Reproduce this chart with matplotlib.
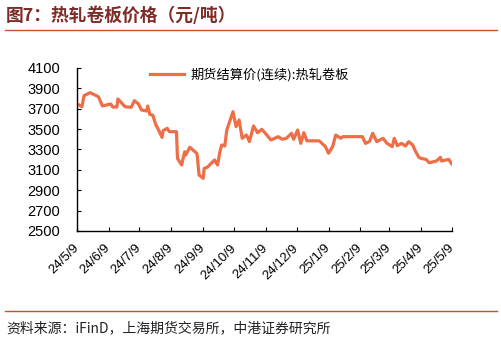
import pandas as pd
import matplotlib.pyplot as plt

plt.rcParams['font.family'] = ['Liberation Sans', 'Noto Sans CJK SC', 'DejaVu Sans']

# values (yuan/ton)
dates = ['2024-05-09', '2024-05-14', '2024-05-16', '2024-05-22', '2024-05-30',
         '2024-06-03', '2024-06-11', '2024-06-13', '2024-06-17', '2024-06-18',
         '2024-06-25', '2024-07-01', '2024-07-04', '2024-07-08', '2024-07-11',
         '2024-07-16', '2024-07-17', '2024-07-19', '2024-07-22', '2024-07-25',
         '2024-07-26', '2024-07-31', '2024-08-01', '2024-08-05', '2024-08-07',
         '2024-08-14', '2024-08-15', '2024-08-19', '2024-08-22', '2024-08-23',
         '2024-08-27', '2024-09-02', '2024-09-03', '2024-09-05', '2024-09-09',
         '2024-09-10', '2024-09-13', '2024-09-20', '2024-09-23', '2024-09-25',
         '2024-09-27', '2024-09-30', '2024-10-02', '2024-10-08', '2024-10-11',
         '2024-10-14', '2024-10-17', '2024-10-21', '2024-10-22', '2024-10-24',
         '2024-10-28', '2024-11-01', '2024-11-05', '2024-11-08', '2024-11-14',
         '2024-11-21', '2024-11-25', '2024-11-29', '2024-12-04', '2024-12-06',
         '2024-12-10', '2024-12-13', '2024-12-16', '2024-12-19', '2024-12-31',
         '2025-01-06', '2025-01-09', '2025-01-13', '2025-01-16', '2025-01-21',
         '2025-01-23', '2025-02-11', '2025-02-14', '2025-02-18', '2025-02-21',
         '2025-02-25', '2025-03-03', '2025-03-07', '2025-03-12', '2025-03-14',
         '2025-03-17', '2025-03-21', '2025-03-25', '2025-03-28', '2025-04-01',
         '2025-04-03', '2025-04-07', '2025-04-09', '2025-04-14', '2025-04-17',
         '2025-04-24', '2025-04-28', '2025-04-29', '2025-05-06', '2025-05-09']
prices = [3750, 3720, 3828, 3858, 3818,
          3727, 3747, 3717, 3717, 3796,
          3720, 3714, 3779, 3747, 3688,
          3678, 3727, 3645, 3636, 3540,
          3524, 3419, 3485, 3508, 3475,
          3475, 3213, 3148, 3278, 3246,
          3322, 3269, 3258, 3050, 3017,
          3115, 3125, 3197, 3148, 3263,
          3344, 3334, 3491, 3671, 3524,
          3590, 3410, 3442, 3426, 3377,
          3531, 3465, 3498, 3465, 3393,
          3426, 3400, 3410, 3459, 3400,
          3491, 3360, 3465, 3385, 3385,
          3328, 3263, 3328, 3442, 3410,
          3426, 3426, 3360, 3380, 3459,
          3377, 3410, 3360, 3328, 3410,
          3337, 3360, 3334, 3377, 3344,
          3295, 3223, 3213, 3203, 3170,
          3187, 3223, 3187, 3203, 3158]
tick_dates = ['2024-05-09', '2024-06-09', '2024-07-09', '2024-08-09', '2024-09-09',
              '2024-10-09', '2024-11-09', '2024-12-09', '2025-01-09', '2025-02-09',
              '2025-03-09', '2025-04-09', '2025-05-09']
tick_labels = ['24/5/9', '24/6/9', '24/7/9', '24/8/9', '24/9/9', '24/10/9', '24/11/9',
               '24/12/9', '25/1/9', '25/2/9', '25/3/9', '25/4/9', '25/5/9']
yticks = list(range(2500, 4101, 200))

x = pd.to_datetime(dates)

fig = plt.figure(figsize=(5.02, 3.41), dpi=100)
ax = fig.add_axes([0.153, 0.3226, 0.747, 0.478])

ax.plot(x, prices, color='#EE6E47', lw=2.3, label='期货结算价(连续):热轧卷板')

ax.set_ylim(2500, 4100)
ax.set_yticks(yticks)
ax.set_xlim(pd.Timestamp(tick_dates[0]), pd.Timestamp(tick_dates[-1]))
ax.set_xticks(pd.to_datetime(tick_dates))
ax.set_xticklabels(tick_labels, rotation=45, ha='right', va='center',
                   rotation_mode='anchor')
ax.tick_params(axis='both', direction='in', length=3)
ax.tick_params(axis='y', labelsize=10.5, pad=12)
ax.tick_params(axis='x', labelsize=9.5, pad=11)
for s in ['top', 'right']:
    ax.spines[s].set_visible(False)
for s in ['left', 'bottom']:
    ax.spines[s].set_linewidth(1.0)

ax.legend(loc='upper left', bbox_to_anchor=(0.163, 1.075), frameon=False,
          handlelength=2.6, handletextpad=0.5,
          prop={'family': ['Noto Sans CJK SC'], 'size': 9.5})

# title and source
fig.text(0.012, 0.955, '图7：热轧卷板价格（元/吨）', fontsize=12.8, fontweight='bold',
         color='#7D2C28', family=['Noto Sans CJK SC'], va='center')
fig.add_artist(plt.Line2D([0.01, 0.99], [0.912, 0.912], color='#C8502F', lw=1.0))
fig.add_artist(plt.Line2D([0.01, 0.99], [0.088, 0.088], color='#C8502F', lw=1.0))
fig.text(0.012, 0.038, '资料来源：iFinD，上海期货交易所，中港证券研究所', fontsize=10,
         style='italic', color='#222222', family=['Noto Sans CJK SC', 'DejaVu Sans'],
         va='center')

fig.savefig('out.png', dpi=100)
